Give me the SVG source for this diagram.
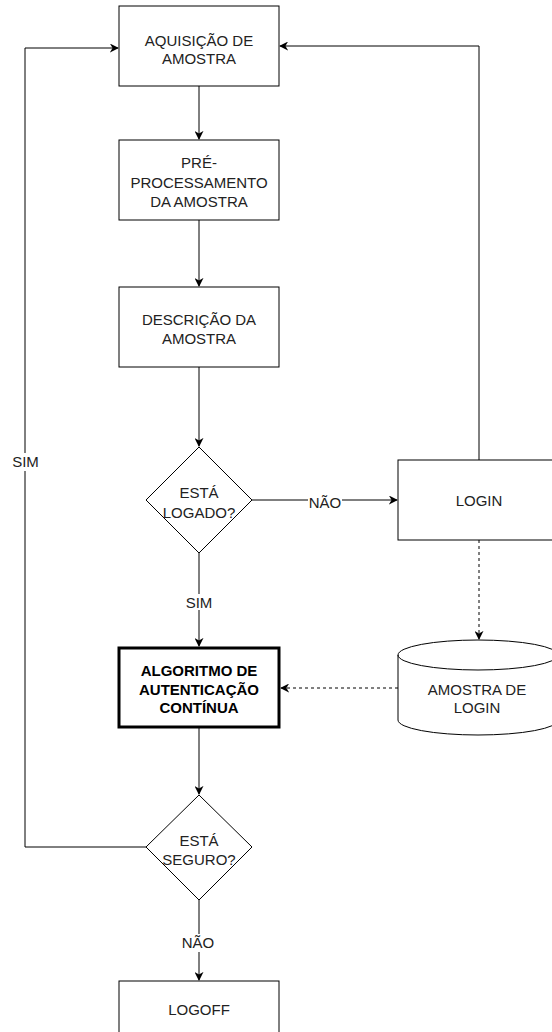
<svg xmlns="http://www.w3.org/2000/svg" width="552" height="1032" viewBox="0 0 552 1032">
  <style>
    .box { fill: #ffffff; stroke: #000000; stroke-width: 1; }
    .bold { stroke-width: 3; }
    .edge { fill: none; stroke: #000000; stroke-width: 1; }
    .dash { stroke-dasharray: 3 3; }
    text { font-family: "Liberation Sans", Arial, Helvetica, sans-serif; font-size: 15px; fill: #222222; text-anchor: middle; }
    .b { font-weight: bold; fill: #000000; }
    .lbl { fill: #ffffff; stroke: none; }
  </style>
  <defs>
    <marker id="arrow" viewBox="0 0 10 10" refX="9" refY="5" markerWidth="9" markerHeight="9" markerUnits="userSpaceOnUse" orient="auto">
      <path d="M0,0 L10,5 L0,10 L3,5 Z" fill="#000000"/>
    </marker>
  </defs>
  <rect width="552" height="1032" fill="#ffffff"/>

  <!-- connectors -->
  <g id="connectors">
    <path class="edge" d="M199,86 V139" marker-end="url(#arrow)"/>
    <path class="edge" d="M199,220 V286" marker-end="url(#arrow)"/>
    <path class="edge" d="M199,367 V446" marker-end="url(#arrow)"/>
    <path class="edge" d="M252,500 H397" marker-end="url(#arrow)"/>
    <rect class="lbl" x="308" y="493" width="34" height="16"/>
    <text x="325" y="508">NÃO</text>
    <path class="edge" d="M199,553 V646" marker-end="url(#arrow)"/>
    <rect class="lbl" x="185" y="594" width="28" height="16"/>
    <text x="199" y="608">SIM</text>
    <path class="edge" d="M479,460 V46 H280" marker-end="url(#arrow)"/>
    <path class="edge dash" d="M479,540 V639" marker-end="url(#arrow)"/>
    <path class="edge dash" d="M398,688 H281" marker-end="url(#arrow)"/>
    <path class="edge" d="M199,728 V794" marker-end="url(#arrow)"/>
    <path class="edge" d="M146,847 H25 V48 H118" marker-end="url(#arrow)"/>
    <rect class="lbl" x="10" y="453" width="31" height="18"/>
    <text x="25.5" y="467">SIM</text>
    <path class="edge" d="M199,900 V980" marker-end="url(#arrow)"/>
    <rect class="lbl" x="181" y="934" width="36" height="18"/>
    <text x="198" y="948">NÃO</text>
  </g>

  <g id="aquisicao">
    <rect class="box" x="119" y="6" width="160" height="80"/>
    <text x="199" y="45.5">AQUISIÇÃO DE</text>
    <text x="199" y="64">AMOSTRA</text>
  </g>

  <g id="preprocessamento">
    <rect class="box" x="119" y="140" width="160" height="80"/>
    <text x="199" y="168">PRÉ-</text>
    <text x="199" y="188">PROCESSAMENTO</text>
    <text x="199" y="207">DA AMOSTRA</text>
  </g>

  <g id="descricao">
    <rect class="box" x="119" y="287" width="160" height="80"/>
    <text x="199" y="325">DESCRIÇÃO DA</text>
    <text x="199" y="344">AMOSTRA</text>
  </g>

  <g id="esta-logado">
    <polygon class="box" points="199,447 252,500 199,553 146,500"/>
    <text x="199" y="498">ESTÁ</text>
    <text x="199" y="518">LOGADO?</text>
  </g>

  <g id="login">
    <rect class="box" x="398" y="460" width="160" height="80"/>
    <text x="479" y="506">LOGIN</text>
  </g>

  <g id="algoritmo">
    <rect class="box bold" x="119" y="648" width="160" height="79"/>
    <text class="b" x="199" y="676">ALGORITMO DE</text>
    <text class="b" x="199" y="695">AUTENTICAÇÃO</text>
    <text class="b" x="199" y="713">CONTÍNUA</text>
  </g>

  <g id="amostra-login">
    <path class="box" d="M398,655 A80,15 0 0 1 558,655 V720 A80,15 0 0 1 398,720 Z"/>
    <path class="edge" d="M398,655 A80,15 0 0 0 558,655"/>
    <text x="477" y="695">AMOSTRA DE</text>
    <text x="477" y="713">LOGIN</text>
  </g>

  <g id="esta-seguro">
    <polygon class="box" points="199,795 252,847 199,900 146,847"/>
    <text x="199" y="846">ESTÁ</text>
    <text x="199" y="865">SEGURO?</text>
  </g>

  <g id="logoff">
    <rect class="box" x="119" y="981" width="160" height="80"/>
    <text x="199" y="1015">LOGOFF</text>
  </g>
</svg>
